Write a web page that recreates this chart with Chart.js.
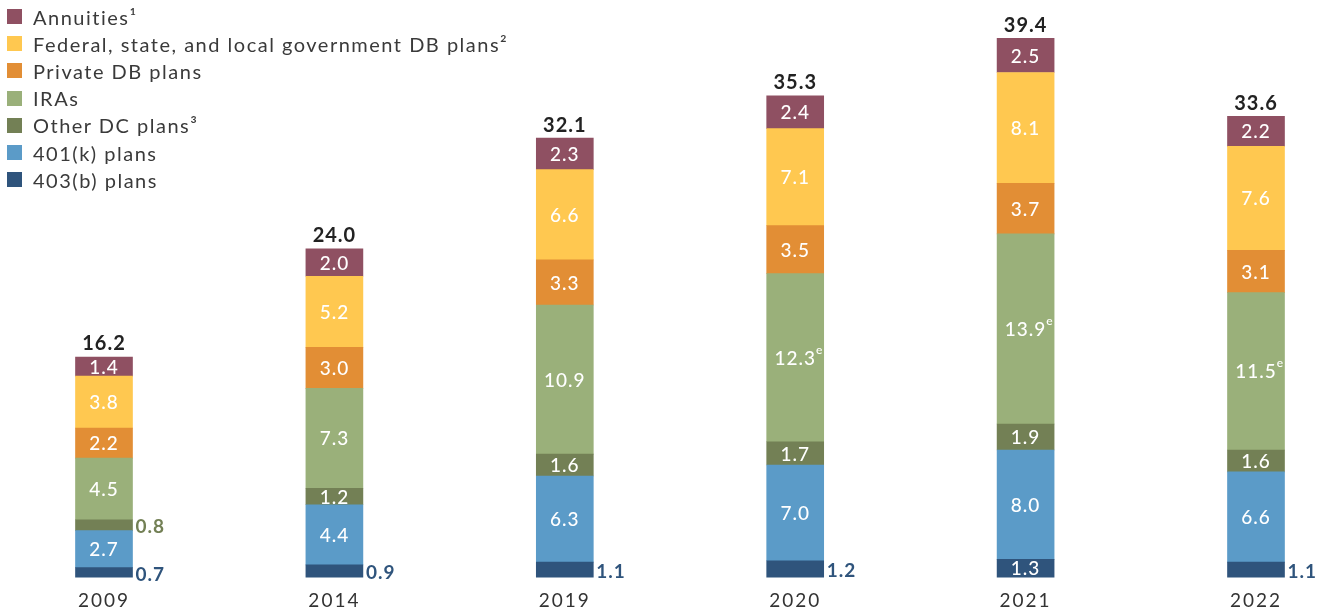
<!DOCTYPE html>
<html>
<head>
<meta charset="utf-8">
<script src="https://cdn.jsdelivr.net/npm/chart.js@4"></script>
<style>
  body { margin: 0; background: #fff; font-family: Lato, sans-serif; }
  .wrap { position: relative; width: 1326px; height: 614px; }
  .legend { position: absolute; left: 7px; top: 3px; color: #3a3a3a; font-size: 20px; letter-spacing: 1.5px; }
  .legend div { height: 27.2px; display: flex; align-items: center; }
  .legend span.box { width: 15px; height: 15px; margin-right: 11px; display: inline-block; }
</style>
</head>
<body>
<div class="wrap">
  <canvas class="assets-chart"></canvas>
  <div class="legend"></div>
</div>
<script>
const years = ['2009', '2014', '2019', '2020', '2021', '2022'];
const plans403b = [0.7, 0.9, 1.1, 1.2, 1.3, 1.1];
const plans401k = [2.7, 4.4, 6.3, 7.0, 8.0, 6.6];
const otherDC = [0.8, 1.2, 1.6, 1.7, 1.9, 1.6];
const iras = [4.5, 7.3, 10.9, 12.3, 13.9, 11.5];
const privateDB = [2.2, 3.0, 3.3, 3.5, 3.7, 3.1];
const govDB = [3.8, 5.2, 6.6, 7.1, 8.1, 7.6];
const annuities = [1.4, 2.0, 2.3, 2.4, 2.5, 2.2];
const totals = [16.2, 24.0, 32.1, 35.3, 39.4, 33.6];
const irasNote = ['', '', '', 'e', 'e', 'e']; // estimated values

const ctx = document.querySelector('.assets-chart').getContext('2d');

// wider letter spacing for the axis labels
const spacing = {
    id: 'spacing',
    beforeDraw(chart) {
        chart.ctx.letterSpacing = '2px';
    }
};

// draws segment values, totals and the small outside labels
const valueLabels = {
    id: 'valueLabels',
    afterDatasetsDraw(chart) {
        const c = chart.ctx;
        c.save();
        c.letterSpacing = '1px';
        c.textBaseline = 'middle';
        chart.data.datasets.forEach((ds, di) => {
            const meta = chart.getDatasetMeta(di);
            meta.data.forEach((bar, i) => {
                const h = bar.base - bar.y;
                const txt = ds.data[i].toFixed(1);
                const midY = (bar.y + bar.base) / 2;
                if (h >= (ds.minInside || 12)) {
                    c.font = '500 19px Lato';
                    c.fillStyle = '#ffffff';
                    c.textAlign = 'center';
                    c.fillText(txt, bar.x, midY + 1);
                    if (ds.notes && ds.notes[i]) {
                        const w = c.measureText(txt).width;
                        c.font = '500 12px Lato';
                        c.textAlign = 'left';
                        c.fillText(ds.notes[i], bar.x + w / 2, midY - 8);
                    }
                } else {
                    c.font = 'bold 19px Lato';
                    c.fillStyle = ds.backgroundColor;
                    c.textAlign = 'left';
                    c.fillText(txt, bar.x + bar.width / 2 + 3, midY + 2);
                }
            });
        });
        const top = chart.getDatasetMeta(chart.data.datasets.length - 1);
        c.font = 'bold 20px Lato';
        c.fillStyle = '#222222';
        c.textAlign = 'center';
        c.textBaseline = 'bottom';
        top.data.forEach((bar, i) => {
            c.fillText(totals[i].toFixed(1), bar.x, bar.y - 3);
        });
        c.restore();
    }
};

const chart = new Chart(ctx, {
    type: 'bar',
    data: {
        labels: years,
        datasets: [
            { label: '403(b) plans', data: plans403b, backgroundColor: 'rgb(47,84,124)', minInside: 17 },
            { label: '401(k) plans', data: plans401k, backgroundColor: 'rgb(91,155,200)' },
            { label: 'Other DC plans³', data: otherDC, backgroundColor: 'rgb(115,128,85)' },
            { label: 'IRAs', data: iras, backgroundColor: 'rgb(154,176,122)', notes: irasNote },
            { label: 'Private DB plans', data: privateDB, backgroundColor: 'rgb(226,142,53)' },
            { label: 'Federal, state, and local government DB plans²', data: govDB, backgroundColor: 'rgb(255,200,80)' },
            { label: 'Annuities¹', data: annuities, backgroundColor: 'rgb(143,80,98)' }
        ]
    },
    options: {
        responsive: true,
        maintainAspectRatio: false,
        animation: false,
        layout: {
            padding: { left: 104, right: 70, top: 0, bottom: -10 }
        },
        datasets: {
            bar: { barThickness: 57, borderWidth: 0, clip: false }
        },
        scales: {
            x: {
                stacked: true,
                offset: false,
                grid: { display: false, drawTicks: false },
                border: { display: false },
                ticks: {
                    color: '#333333',
                    font: { family: 'Lato', size: 19 },
                    padding: 12,
                    maxRotation: 0
                }
            },
            y: {
                stacked: true,
                display: false,
                min: 0,
                max: 42.2
            }
        },
        plugins: {
            legend: { display: false },
            tooltip: { enabled: false }
        }
    },
    plugins: [spacing, valueLabels]
});

const legendBox = document.querySelector('.legend');
chart.data.datasets.slice().reverse().forEach(ds => {
    const row = document.createElement('div');
    const box = document.createElement('span');
    box.className = 'box';
    box.style.background = ds.backgroundColor;
    row.appendChild(box);
    row.appendChild(document.createTextNode(ds.label));
    legendBox.appendChild(row);
});
</script>
</body>
</html>
